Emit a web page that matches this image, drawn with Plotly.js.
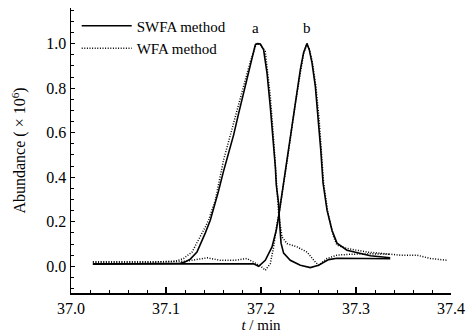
<!DOCTYPE html>
<html>
<head>
<meta charset="utf-8">
<script src="https://cdn.plot.ly/plotly-3.0.1.min.js"></script>
<style>html,body{margin:0;padding:0;background:#fff;}#chart{width:466px;height:333px;}</style>
</head>
<body>
<div id="chart"></div>
<script>
// SWFA method, compound a
const swfaA_t = [37.023,37.083,37.115,37.120,37.1256,37.1326,37.136,37.1413,37.1466,37.1498,37.155,37.1603,37.1656,37.1712,37.1761,37.1817,37.1887,37.194,37.1964,37.1993,37.2027,37.2063,37.2098,37.2133,37.2151,37.2161,37.2185,37.2196,37.2211,37.2238,37.2308,37.2414,37.2519,37.2606,37.2712,37.28,37.294,37.336];
const swfaA_y = [0.009,0.011,0.0135,0.019,0.032,0.064,0.095,0.149,0.207,0.252,0.333,0.423,0.5,0.59,0.68,0.779,0.914,0.995,1.0,0.998,0.973,0.869,0.716,0.554,0.446,0.365,0.284,0.194,0.104,0.059,0.027,0.0045,-0.006,0.0045,0.03,0.036,0.036,0.034];
// SWFA method, compound b
const swfaB_t = [37.023,37.083,37.136,37.178,37.1922,37.1975,37.2045,37.2116,37.2161,37.2185,37.2221,37.2256,37.2291,37.2361,37.2414,37.2448,37.2484,37.2508,37.2537,37.2572,37.2606,37.2629,37.2653,37.2695,37.2747,37.28,37.2905,37.3045,37.3151,37.336];
const swfaB_y = [0.011,0.012,0.012,0.012,0.011,0.0,0.027,0.087,0.162,0.222,0.329,0.432,0.514,0.734,0.883,0.959,1.0,0.973,0.914,0.808,0.658,0.523,0.374,0.252,0.162,0.104,0.072,0.059,0.047,0.038];
// WFA method, compound a
const wfaA_t = [37.023,37.083,37.1098,37.1185,37.1274,37.1343,37.1414,37.1448,37.1519,37.1606,37.1708,37.1814,37.1887,37.1951,37.1993,37.2045,37.2098,37.2133,37.2161,37.2185,37.2221,37.2274,37.2379,37.2484,37.2572,37.2606,37.2695,37.28,37.294,37.3151,37.336];
const wfaA_y = [0.019,0.019,0.0225,0.035,0.064,0.117,0.177,0.207,0.297,0.477,0.635,0.802,0.919,1.0,0.995,0.965,0.763,0.568,0.374,0.239,0.132,0.102,0.087,0.064,0.019,0.0045,0.035,0.05,0.054,0.056,0.054];
// WFA method, compound b
const wfaB_t = [37.023,37.083,37.1203,37.1361,37.1435,37.1572,37.1729,37.1853,37.1922,37.1993,37.2045,37.2098,37.2133,37.2168,37.2196,37.2224,37.2256,37.2287,37.2361,37.2414,37.2448,37.2484,37.2508,37.254,37.2577,37.2612,37.2635,37.2659,37.2703,37.2764,37.28,37.2905,37.3116,37.3466,37.3642,37.3782,37.3958];
const wfaB_y = [0.019,0.019,0.0225,0.035,0.038,0.027,0.027,0.035,0.019,0.002,-0.018,0.012,0.087,0.192,0.252,0.329,0.423,0.509,0.73,0.878,0.955,1.0,0.977,0.919,0.811,0.658,0.523,0.374,0.243,0.132,0.095,0.08,0.064,0.05,0.05,0.035,0.027];

const seriesNames = ['SWFA method','WFA method'];
const peakLabels = ['a','b'];
const xTicks = [37.0,37.1,37.2,37.3,37.4];
const yTicks = [0.0,0.2,0.4,0.6,0.8,1.0];

const serif = 'Liberation Serif, Times New Roman, serif';
const solid = {color:'#000', width:1.6, dash:'solid'};
const dotted = {color:'#000', width:1.5, dash:'1px,1.6px'};

const traces = [
  {x:swfaA_t, y:swfaA_y, mode:'lines', line:solid, name:seriesNames[0], legendgroup:'s', showlegend:true},
  {x:swfaB_t, y:swfaB_y, mode:'lines', line:solid, name:seriesNames[0], legendgroup:'s', showlegend:false},
  {x:wfaA_t, y:wfaA_y, mode:'lines', line:dotted, name:seriesNames[1], legendgroup:'w', showlegend:true},
  {x:wfaB_t, y:wfaB_y, mode:'lines', line:dotted, name:seriesNames[1], legendgroup:'w', showlegend:false}
];

const layout = {
  width:466, height:333,
  margin:{l:71, r:15, t:8, b:40},
  paper_bgcolor:'#fff', plot_bgcolor:'#fff',
  font:{family:serif, size:15, color:'#000'},
  showlegend:true,
  legend:{x:0.015, y:0.995, xanchor:'left', yanchor:'top', bgcolor:'rgba(0,0,0,0)',
          font:{family:serif, size:15, color:'#000'}, tracegroupgap:0, itemwidth:50},
  xaxis:{range:[37.0,37.4], tickvals:xTicks, tickformat:'.1f', ticks:'inside', ticklen:6, tickwidth:1.2,
         tickcolor:'#000', showline:true, linecolor:'#000', linewidth:1.5, showgrid:false, zeroline:false,
         minor:{dtick:0.02, ticks:'inside', ticklen:3, tickwidth:1, tickcolor:'#000', showgrid:false},
         tickfont:{family:serif, size:16, color:'#000'},
         title:{text:'<i>t</i> / min', font:{family:serif, size:15, color:'#000'}, standoff:1}},
  yaxis:{range:[-0.12,1.16], tickvals:yTicks, tickformat:'.1f', ticks:'inside', ticklen:4, tickwidth:1.2,
         tickcolor:'#000', showline:true, linecolor:'#000', linewidth:1.5, showgrid:false, zeroline:false,
         minor:{dtick:0.05, ticks:'inside', ticklen:3, tickwidth:1, tickcolor:'#000', showgrid:false},
         tickfont:{family:serif, size:16, color:'#000'},
         title:{text:'Abundance ( × 10<sup>6</sup>)', font:{family:serif, size:16, color:'#000'}, standoff:16}},
  annotations:[
    {x:37.194, y:1.068, xref:'x', yref:'y', text:peakLabels[0], showarrow:false, font:{family:serif, size:15, color:'#000'}},
    {x:37.248, y:1.072, xref:'x', yref:'y', text:peakLabels[1], showarrow:false, font:{family:serif, size:15, color:'#000'}}
  ]
};

Plotly.newPlot('chart', traces, layout, {displayModeBar:false, staticPlot:true});
</script>
</body>
</html>
